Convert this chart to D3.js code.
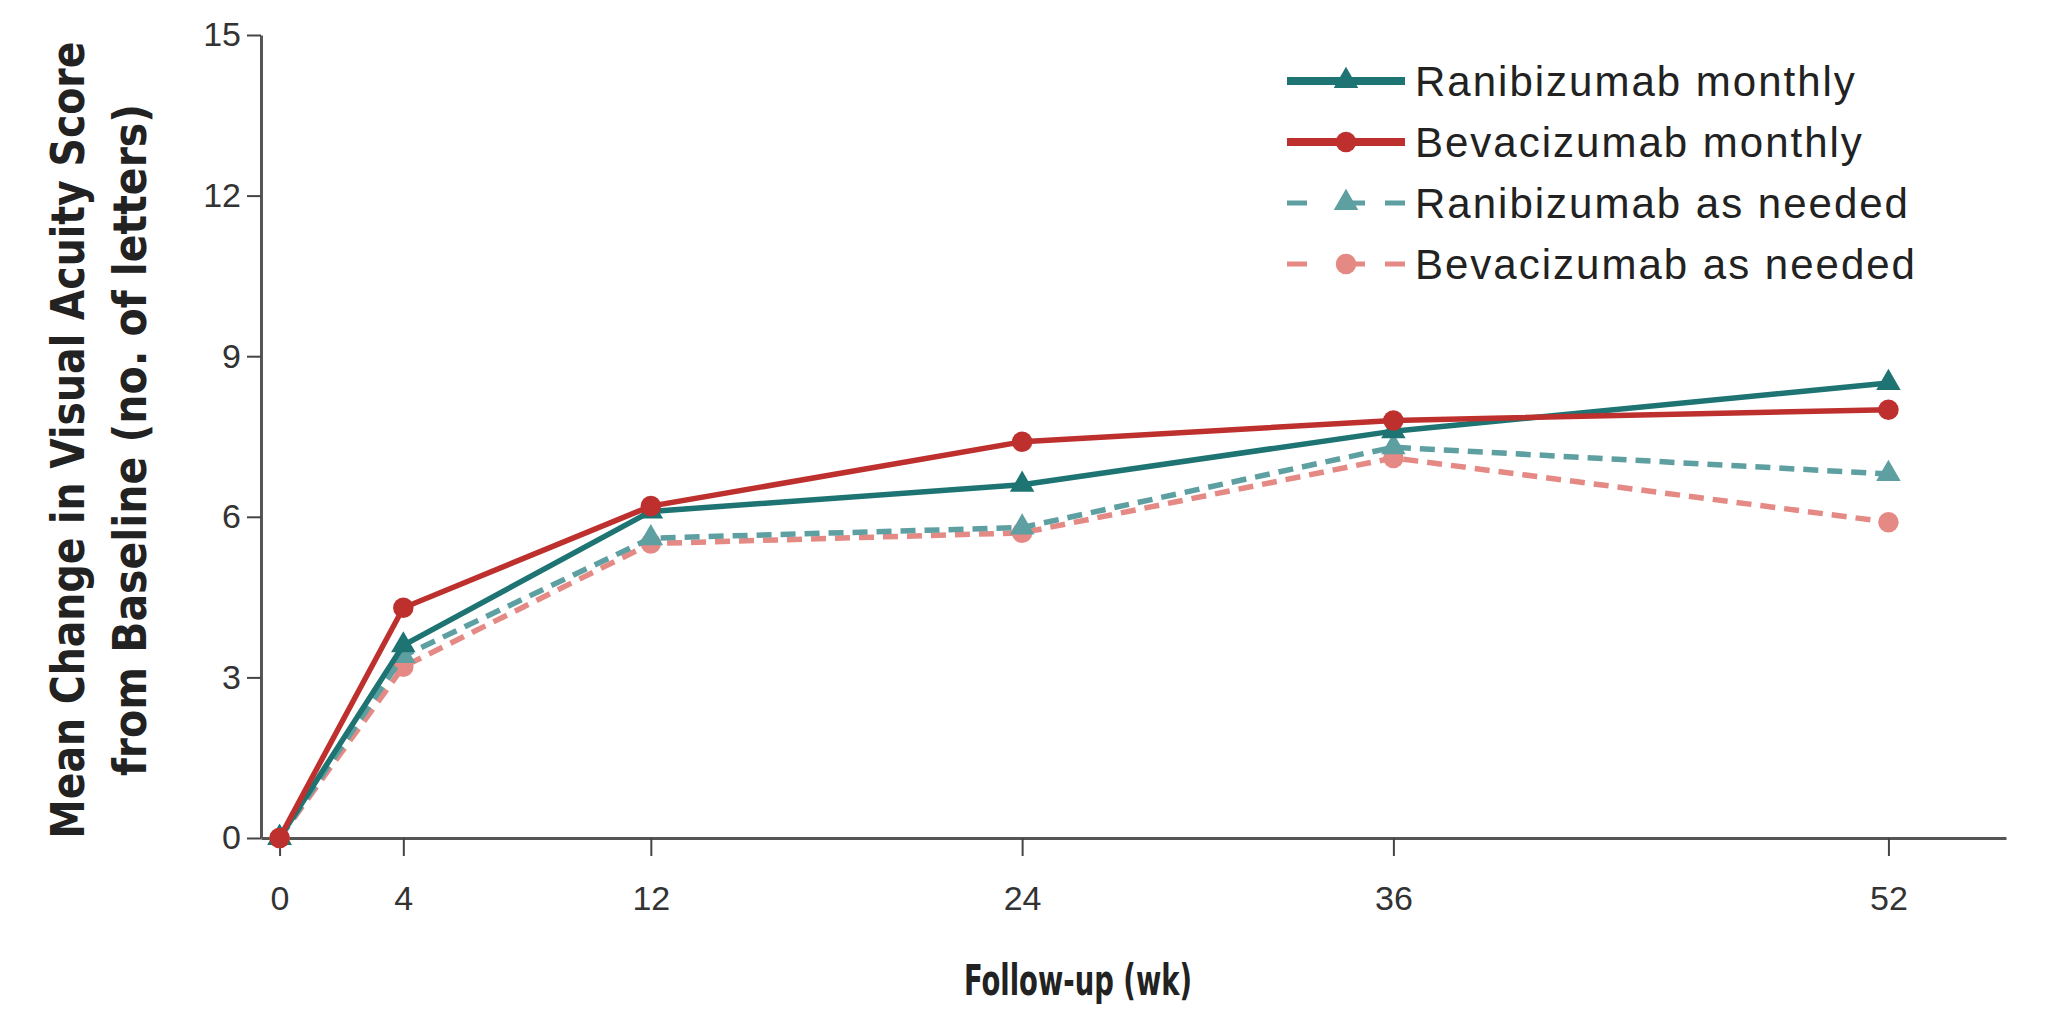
<!DOCTYPE html>
<html>
<head>
<meta charset="utf-8">
<script src="https://cdn.jsdelivr.net/npm/d3@7"></script>
<style>
  body { margin: 0; background: #fff; }
  text { font-family: "Liberation Sans", Arial, sans-serif; }
  .title { font-family: "DejaVu Sans Condensed", "DejaVu Sans", sans-serif; font-weight: bold; fill: #222; }
</style>
</head>
<body>
<div class="canvas"></div>
<script>
const WEEKS = [0, 4, 12, 24, 36, 52];
const RANI_MONTHLY = [0, 3.6, 6.1, 6.6, 7.6, 8.5];
const BEVA_MONTHLY = [0, 4.3, 6.2, 7.4, 7.8, 8.0];
const RANI_PRN = [0, 3.4, 5.6, 5.8, 7.3, 6.8];
const BEVA_PRN = [0, 3.2, 5.5, 5.7, 7.1, 5.9];
const Y_TICKS = [0, 3, 6, 9, 12, 15];
const SERIES_NAMES = [
  "Ranibizumab monthly",
  "Bevacizumab monthly",
  "Ranibizumab as needed",
  "Bevacizumab as needed",
];

const WIDTH = 2049,
  HEIGHT = 1014,
  PLOT = { left: 261, right: 2006, top: 35, bottom: 838 },
  LEGEND = { x0: 1287, x1: 1405, top: 81, step: 61 };

const STYLES = [
  { color: "#1d7472", dash: null, symbol: d3.symbolTriangle, size: 260 },
  { color: "#be302d", dash: null, symbol: d3.symbolCircle, size: 330 },
  { color: "#5e9fa1", dash: "15,9", symbol: d3.symbolTriangle, size: 260 },
  { color: "#e58985", dash: "15,9", symbol: d3.symbolCircle, size: 330 },
];

let svg, x, y, series;

document.addEventListener("DOMContentLoaded", function () {
  setSVG();
  setScales();
  drawAxes();
  drawLines();
  drawLegend();
});

function setSVG() {
  svg = d3
    .select(".canvas")
    .append("svg")
    .attr("width", WIDTH)
    .attr("height", HEIGHT);
}

function setScales() {
  x = d3.scaleLinear().domain([-0.6, 55.8]).range([PLOT.left, PLOT.right]);
  y = d3.scaleLinear().domain([0, 15]).range([PLOT.bottom, PLOT.top]);

  series = [RANI_MONTHLY, BEVA_MONTHLY, RANI_PRN, BEVA_PRN].map((values, i) => ({
    name: SERIES_NAMES[i],
    style: STYLES[i],
    points: WEEKS.map((week, j) => ({ week, value: values[j] })),
  }));
}

function drawAxes() {
  const xAxis = svg
    .append("g")
    .attr("transform", `translate(0, ${PLOT.bottom})`)
    .call(d3.axisBottom(x).tickValues(WEEKS).tickSize(18).tickSizeOuter(0).tickPadding(30));

  const yAxis = svg
    .append("g")
    .attr("transform", `translate(${PLOT.left}, 0)`)
    .call(d3.axisLeft(y).tickValues(Y_TICKS).tickSize(14).tickSizeOuter(0).tickPadding(6));

  [xAxis, yAxis].forEach((axis) => {
    axis.select(".domain").attr("stroke", "#555").attr("stroke-width", 3);
    axis.selectAll(".tick line").attr("stroke", "#444").attr("stroke-width", 2);
    axis
      .selectAll(".tick text")
      .attr("fill", "#333")
      .style("font-size", "34px")
      .style("font-family", "'Liberation Sans', sans-serif");
  });

  svg
    .append("text")
    .attr("class", "title")
    .attr("x", 1078)
    .attr("y", 995)
    .attr("text-anchor", "middle")
    .attr("textLength", 228)
    .attr("lengthAdjust", "spacingAndGlyphs")
    .style("font-size", "42px")
    .text("Follow-up (wk)");

  const yTitle = svg
    .append("g")
    .attr("transform", "translate(0, 440) rotate(-90)");

  yTitle
    .append("text")
    .attr("class", "title")
    .attr("y", 84)
    .attr("text-anchor", "middle")
    .attr("textLength", 797)
    .attr("lengthAdjust", "spacingAndGlyphs")
    .style("font-size", "46px")
    .text("Mean Change in Visual Acuity Score");

  yTitle
    .append("text")
    .attr("class", "title")
    .attr("y", 146)
    .attr("text-anchor", "middle")
    .attr("textLength", 672)
    .attr("lengthAdjust", "spacingAndGlyphs")
    .style("font-size", "46px")
    .text("from Baseline (no. of letters)");
}

function drawLines() {
  const line = d3
    .line()
    .x((d) => x(d.week))
    .y((d) => y(d.value));

  const order = [3, 2, 0, 1];

  const group = svg
    .selectAll(".series")
    .data(order.map((i) => series[i]))
    .enter()
    .append("g")
    .attr("class", "series");

  group
    .append("path")
    .attr("d", (d) => line(d.points))
    .attr("fill", "none")
    .attr("stroke", (d) => d.style.color)
    .attr("stroke-width", 5.5)
    .attr("stroke-dasharray", (d) => d.style.dash);

  group
    .selectAll("path.marker")
    .data((d) => d.points.map((p) => ({ ...p, style: d.style })))
    .enter()
    .append("path")
    .attr("class", "marker")
    .attr("d", (d) => d3.symbol(d.style.symbol, d.style.size)())
    .attr("transform", (d) => `translate(${x(d.week)}, ${y(d.value)})`)
    .attr("fill", (d) => d.style.color);
}

function drawLegend() {
  const item = svg
    .append("g")
    .selectAll("g")
    .data(series)
    .enter()
    .append("g")
    .attr("transform", (d, i) => `translate(0, ${LEGEND.top + i * LEGEND.step})`);

  item
    .append("line")
    .attr("x1", LEGEND.x0)
    .attr("x2", LEGEND.x1)
    .attr("stroke", (d) => d.style.color)
    .attr("stroke-width", (d) => (d.style.dash ? 5 : 8))
    .attr("stroke-dasharray", (d) => (d.style.dash ? "20,38,20" : null));

  item
    .append("path")
    .attr("d", (d) => d3.symbol(d.style.symbol, d.style.size)())
    .attr("transform", `translate(${(LEGEND.x0 + LEGEND.x1) / 2}, 0)`)
    .attr("fill", (d) => d.style.color);

  item
    .append("text")
    .attr("x", LEGEND.x1 + 10)
    .attr("dy", "0.35em")
    .attr("fill", "#222")
    .style("font-size", "42px")
    .style("letter-spacing", "2px")
    .text((d) => d.name);
}
</script>
</body>
</html>
